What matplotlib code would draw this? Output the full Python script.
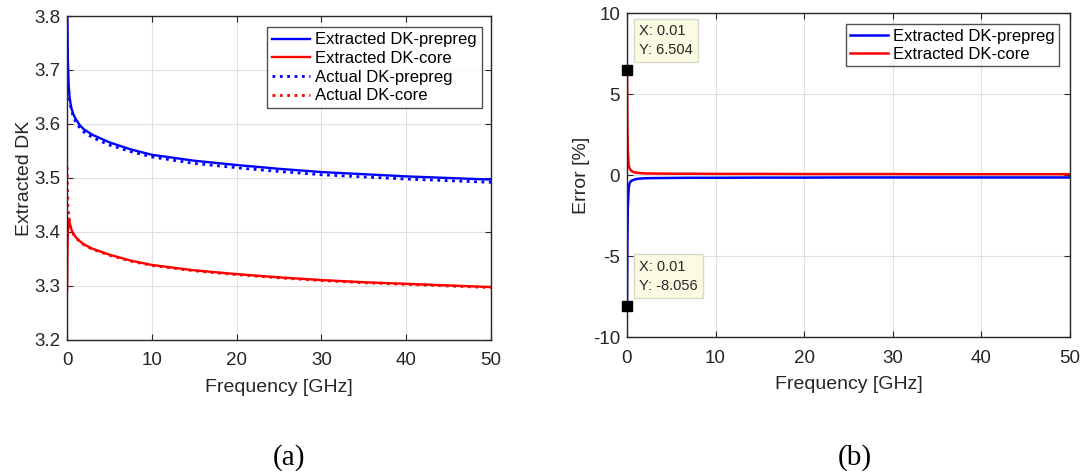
import matplotlib
matplotlib.use("Agg")
import matplotlib.pyplot as plt

plt.rcParams["font.family"] = ["Liberation Sans", "DejaVu Sans"]
plt.rcParams["axes.unicode_minus"] = False

# Frequency samples [GHz]
freq = [0.01, 0.05, 0.1, 0.2, 0.3, 0.5, 0.75, 1, 1.5, 2, 3, 5, 7.5, 10,
        15, 20, 25, 30, 35, 40, 45, 50]

# Dielectric constant, extracted vs. actual
dk_prepreg_extracted = [4.030, 3.800, 3.720, 3.670, 3.650, 3.630, 3.618, 3.610,
                        3.598, 3.590, 3.580, 3.566, 3.553, 3.543, 3.532, 3.524,
                        3.517, 3.511, 3.507, 3.503, 3.500, 3.497]
dk_core_extracted = [3.291, 3.360, 3.400, 3.425, 3.418, 3.405, 3.397, 3.391,
                     3.383, 3.377, 3.369, 3.358, 3.347, 3.339, 3.329, 3.322,
                     3.316, 3.311, 3.307, 3.304, 3.301, 3.298]
dk_prepreg_actual = [3.730, 3.700, 3.680, 3.660, 3.645, 3.627, 3.613, 3.605,
                     3.593, 3.585, 3.575, 3.561, 3.549, 3.539, 3.527, 3.519,
                     3.512, 3.506, 3.502, 3.498, 3.495, 3.492]
dk_core_actual = [3.520, 3.480, 3.450, 3.430, 3.420, 3.404, 3.396, 3.390,
                  3.382, 3.376, 3.368, 3.357, 3.346, 3.338, 3.328, 3.321,
                  3.315, 3.310, 3.306, 3.303, 3.300, 3.297]

# Extraction error [%]
err_prepreg = [-8.056, -4.0, -2.0, -0.8, -0.5, -0.35, -0.3, -0.25, -0.22, -0.2,
               -0.19, -0.18, -0.17, -0.17, -0.16, -0.16, -0.15, -0.15, -0.15,
               -0.15, -0.15, -0.15]
err_core = [6.504, 3.0, 1.5, 0.6, 0.4, 0.25, 0.18, 0.15, 0.12, 0.1, 0.09,
            0.08, 0.08, 0.07, 0.07, 0.06, 0.06, 0.06, 0.05, 0.05, 0.05, 0.05]

x_ticks = [0, 10, 20, 30, 40, 50]
dk_ticks = [3.2, 3.3, 3.4, 3.5, 3.6, 3.7, 3.8]
err_ticks = [-10, -5, 0, 5, 10]

fig = plt.figure(figsize=(10.86, 4.72), dpi=100)
ax1 = fig.add_axes([0.0617, 0.2797, 0.3904, 0.6864])
ax2 = fig.add_axes([0.5773, 0.2860, 0.4079, 0.6864])

spine_col = "#262626"
for ax in (ax1, ax2):
    ax.grid(True, color="#e0e0e0", linewidth=0.8)
    ax.set_axisbelow(True)
    ax.tick_params(direction="in", top=True, right=True, length=4,
                   labelsize=13.5, colors=spine_col, width=0.8)
    ax.tick_params(axis="x", pad=9)
    ax.tick_params(axis="y", pad=5)
    for s in ax.spines.values():
        s.set_color(spine_col)
        s.set_linewidth(1.0)
    ax.set_xlim(0, 50)
    ax.set_xticks(x_ticks)
    ax.set_xlabel("Frequency [GHz]", fontsize=14, color=spine_col, labelpad=7)

# (a) extracted dielectric constant
ax1.plot(freq, dk_prepreg_extracted, color="blue", lw=1.7, label="Extracted DK-prepreg")
ax1.plot(freq, dk_core_extracted, color="red", lw=1.7, label="Extracted DK-core")
ax1.plot(freq, dk_prepreg_actual, color="blue", lw=2.0, ls=":", label="Actual DK-prepreg")
ax1.plot(freq, dk_core_actual, color="red", lw=2.0, ls=":", label="Actual DK-core")
ax1.set_ylim(3.2, 3.8)
ax1.set_yticks(dk_ticks)
ax1.set_yticklabels([f"{v:.1f}" for v in dk_ticks])
ax1.set_ylabel("Extracted DK", fontsize=14, color=spine_col, labelpad=1)
leg1 = ax1.legend(loc="upper right", bbox_to_anchor=(0.978, 0.965), fontsize=12,
                  frameon=True, fancybox=False, edgecolor=spine_col,
                  handlelength=2.3, handletextpad=0.3, labelspacing=0.22,
                  borderpad=0.3, borderaxespad=0.0)
leg1.get_frame().set_linewidth(1.0)

# (b) extraction error
ax2.plot(freq, err_prepreg, color="blue", lw=1.8, label="Extracted DK-prepreg")
ax2.plot(freq, err_core, color="red", lw=1.8, label="Extracted DK-core")
ax2.set_ylim(-10, 10)
ax2.set_yticks(err_ticks)
ax2.set_ylabel("Error [%]", fontsize=14, color=spine_col, labelpad=2)
leg2 = ax2.legend(loc="upper right", bbox_to_anchor=(0.975, 0.965), fontsize=12,
                  frameon=True, fancybox=False, edgecolor=spine_col,
                  handlelength=2.3, handletextpad=0.3, labelspacing=0.2,
                  borderpad=0.25, borderaxespad=0.0)
leg2.get_frame().set_linewidth(1.0)

# data tips at the first frequency sample
for series in (err_core, err_prepreg):
    x0, y0 = freq[0], series[0]
    ax2.plot([x0], [y0], marker="s", color="black", ms=7, clip_on=False, zorder=5)
    ax2.annotate(f"X: {x0:g}\nY: {y0:.3f}", xy=(x0, y0), xytext=(12, 13),
                 textcoords="offset pixels", ha="left", va="bottom",
                 fontsize=10.5, color="#262626", linespacing=1.45,
                 bbox=dict(boxstyle="square,pad=0.35", fc="#fbfbe4",
                           ec="#d8d8c8", lw=1.0), zorder=6)

# panel captions
fig.text(0.266, 0.03, "(a)", fontsize=21, family="Liberation Serif",
         ha="center", va="center")
fig.text(0.787, 0.03, "(b)", fontsize=21, family="Liberation Serif",
         ha="center", va="center")

fig.savefig("out.png", dpi=100, facecolor="white")
